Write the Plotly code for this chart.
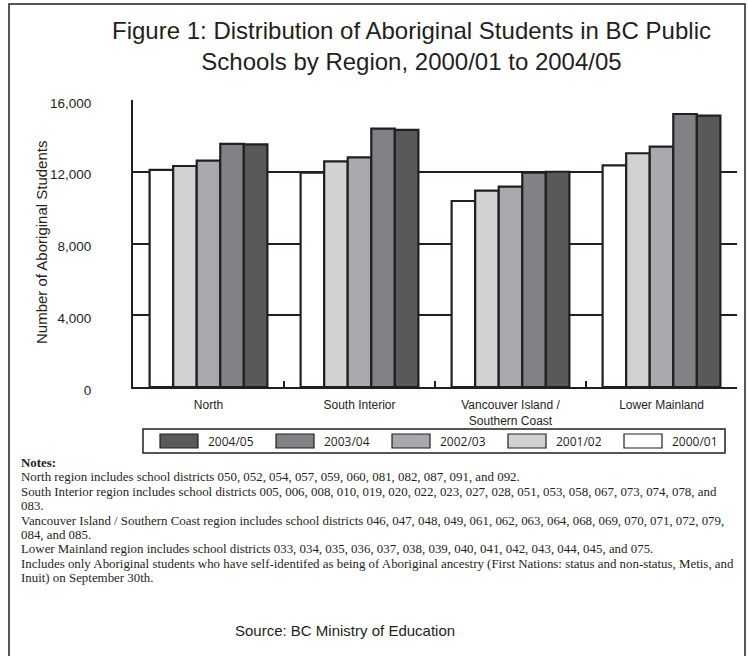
import plotly.graph_objects as go

# ---------------- data ----------------
regions = ["North", "South Interior", "Vancouver Island /<br>Southern Coast", "Lower Mainland"]
years = ["2000/01", "2001/02", "2002/03", "2003/04", "2004/05"]
students_2000_01 = [12100, 11950, 10370, 12360]
students_2001_02 = [12320, 12580, 10950, 13030]
students_2002_03 = [12620, 12800, 11170, 13400]
students_2003_04 = [13550, 14400, 11950, 15220]
students_2004_05 = [13530, 14330, 12000, 15130]
series = [students_2000_01, students_2001_02, students_2002_03, students_2003_04, students_2004_05]
colors = ["#ffffff", "#d1d2d4", "#a7a9ac", "#808285", "#58595b"]
y_ticks = [0, 4000, 8000, 12000, 16000]
y_ticklabels = ["0", "4,000", "8,000", "12,000", "16,000"]

notes = [
    "<b>Notes:</b>",
    "North region includes school districts 050, 052, 054, 057, 059, 060, 081, 082, 087, 091, and 092.",
    "South Interior region includes school districts 005, 006, 008, 010, 019, 020, 022, 023, 027, 028, 051, 053, 058, 067, 073, 074, 078, and",
    "083.",
    "Vancouver Island / Southern Coast region includes school districts 046, 047, 048, 049, 061, 062, 063, 064, 068, 069, 070, 071, 072, 079,",
    "084, and 085.",
    "Lower Mainland region includes school districts 033, 034, 035, 036, 037, 038, 039, 040, 041, 042, 043, 044, 045, and 075.",
    "Includes only Aboriginal students who have self-identifed as being of Aboriginal ancestry (First Nations: status and non-status, Metis, and",
    "Inuit) on September 30th.",
]

# ---------------- layout helpers (pixel -> paper) ----------------
W, H = 748, 656
PL, PR, PT, PB = 133, 737, 100, 387
DARK = "#231f20"


def px(x):
    return (x - PL) / (PR - PL)


def py(y):
    return (PB - y) / (PB - PT)


fig = go.Figure()
for yr, vals, col in zip(years, series, colors):
    fig.add_trace(go.Bar(
        x=regions, y=vals, name=yr,
        marker=dict(color=col, line=dict(color=DARK, width=2.2)),
        showlegend=False,
    ))

shapes = []
annotations = []

# outer frame
shapes.append(dict(type="rect", xref="paper", yref="paper",
                   x0=px(9), x1=px(745), y0=py(4), y1=py(670),
                   line=dict(color=DARK, width=1.5), fillcolor="rgba(0,0,0,0)", layer="below"))

# title
annotations.append(dict(text="Figure 1: Distribution of Aboriginal Students in BC Public<br>Schools by Region, 2000/01 to 2004/05",
                        xref="paper", yref="paper", x=px(411), y=py(46), xanchor="center", yanchor="middle",
                        showarrow=False, align="center",
                        font=dict(family="Liberation Sans, Arial", size=24, color=DARK)))

# y axis title
annotations.append(dict(text="Number of Aboriginal Students", textangle=-90,
                        xref="paper", yref="paper", x=px(41), y=py(243), xanchor="center", yanchor="middle",
                        showarrow=False, font=dict(family="Liberation Sans, Arial", size=15, color=DARK)))

# custom legend (reversed order, wide swatches)
LEG_T, LEG_B = 429, 453
shapes.append(dict(type="rect", xref="paper", yref="paper",
                   x0=px(143), x1=px(725), y0=py(LEG_T), y1=py(LEG_B),
                   line=dict(color=DARK, width=1.5), fillcolor="white"))
for i, (yr, col) in enumerate(zip(years[::-1], colors[::-1])):
    sx = 160 + i * 116
    cy = (LEG_T + LEG_B) / 2
    shapes.append(dict(type="rect", xref="paper", yref="paper",
                       x0=px(sx), x1=px(sx + 38), y0=py(cy - 7), y1=py(cy + 7),
                       line=dict(color=DARK, width=1.2), fillcolor=col))
    annotations.append(dict(text=yr, xref="paper", yref="paper", x=px(sx + 46), y=py(cy),
                            xanchor="left", yanchor="middle", showarrow=False,
                            font=dict(family="Open Sans, Liberation Sans", size=12, color=DARK)))

# notes
for i, line in enumerate(notes):
    annotations.append(dict(text=line, xref="paper", yref="paper", x=px(19), y=py(463 + i * 14.4),
                            xanchor="left", yanchor="middle", showarrow=False,
                            font=dict(family="Liberation Serif, Times New Roman", size=12.9, color=DARK)))

# source
annotations.append(dict(text="Source: BC Ministry of Education", xref="paper", yref="paper",
                        x=px(345), y=py(630), xanchor="center", yanchor="middle", showarrow=False,
                        font=dict(family="Liberation Sans, Arial", size=15, color=DARK)))

fig.update_layout(
    width=W, height=H,
    margin=dict(l=PL, r=W - PR, t=PT, b=H - PB, pad=0),
    paper_bgcolor="white", plot_bgcolor="white",
    barmode="group", bargap=0.22, bargroupgap=0,
    shapes=shapes, annotations=annotations,
    showlegend=False,
)
fig.update_xaxes(
    showline=True, linecolor=DARK, linewidth=2,
    ticks="inside", tickson="boundaries", ticklen=6, tickwidth=2, tickcolor=DARK,
    tickfont=dict(family="Liberation Sans, Arial", size=12, color=DARK),
    ticklabelstandoff=6, showgrid=False,
)
fig.update_yaxes(
    range=[0, 16000], tickvals=y_ticks, ticktext=y_ticklabels,
    showgrid=True, gridcolor=DARK, gridwidth=2,
    showline=True, linecolor=DARK, linewidth=2, zeroline=False,
    ticks="", ticklabelstandoff=37, ticklabelshift=3,
    tickfont=dict(family="Liberation Sans, Arial", size=13.5, color=DARK),
)

fig.write_html("out.html")
